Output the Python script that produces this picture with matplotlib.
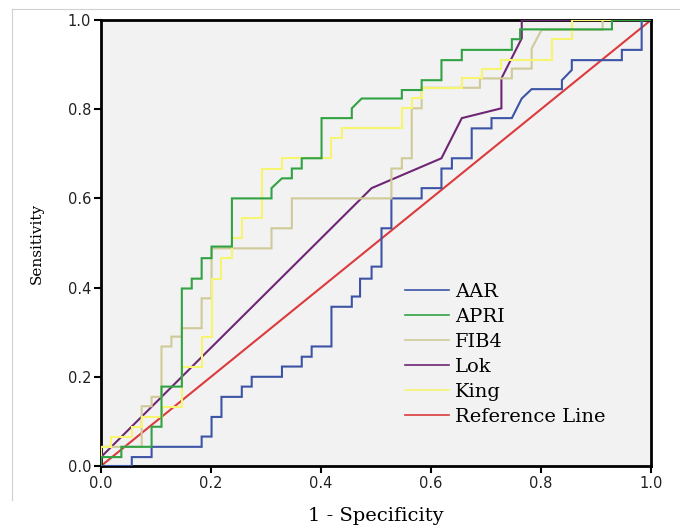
import matplotlib
matplotlib.use('Agg')
from matplotlib import pyplot as plt
from matplotlib.lines import Line2D

# ROC curve vertices (1 - specificity, sensitivity)
aar_x = [0, 0.056, 0.056, 0.092, 0.092, 0.183, 0.183, 0.201, 0.201, 0.219, 0.219,
         0.256, 0.256, 0.274, 0.274, 0.329, 0.329, 0.365, 0.365, 0.383, 0.383,
         0.419, 0.419, 0.456, 0.456, 0.471, 0.471, 0.492, 0.492, 0.51, 0.51,
         0.528, 0.528, 0.583, 0.583, 0.619, 0.619, 0.638, 0.638, 0.674, 0.674,
         0.71, 0.71, 0.747, 0.765, 0.783, 0.838, 0.838, 0.856, 0.856, 0.947,
         0.947, 0.983, 0.983, 1.0]
aar_y = [0, 0, 0.02, 0.02, 0.043, 0.043, 0.066, 0.066, 0.11, 0.11, 0.155,
         0.155, 0.178, 0.178, 0.2, 0.2, 0.223, 0.223, 0.245, 0.245, 0.268,
         0.268, 0.357, 0.357, 0.38, 0.38, 0.42, 0.42, 0.447, 0.447, 0.533,
         0.533, 0.6, 0.6, 0.623, 0.623, 0.667, 0.667, 0.69, 0.69, 0.757,
         0.757, 0.78, 0.78, 0.824, 0.845, 0.845, 0.865, 0.888, 0.91, 0.91,
         0.933, 0.933, 1.0, 1.0]

apri_x = [0, 0, 0.037, 0.037, 0.092, 0.092, 0.11, 0.11, 0.147, 0.147, 0.165,
          0.165, 0.183, 0.183, 0.201, 0.201, 0.238, 0.238, 0.31, 0.31, 0.329,
          0.347, 0.347, 0.365, 0.365, 0.401, 0.401, 0.456, 0.456, 0.474, 0.547,
          0.547, 0.583, 0.583, 0.619, 0.619, 0.656, 0.656, 0.747, 0.747, 0.762,
          0.762, 0.929, 0.929, 1.0]
apri_y = [0, 0.02, 0.02, 0.043, 0.043, 0.088, 0.088, 0.178, 0.178, 0.398, 0.398,
          0.42, 0.42, 0.466, 0.466, 0.492, 0.492, 0.6, 0.6, 0.623, 0.645,
          0.645, 0.667, 0.667, 0.69, 0.69, 0.78, 0.78, 0.802, 0.824, 0.824,
          0.843, 0.843, 0.865, 0.865, 0.91, 0.91, 0.933, 0.933, 0.957, 0.957,
          0.979, 0.979, 1.0, 1.0]

fib4_x = [0, 0, 0.074, 0.074, 0.092, 0.092, 0.11, 0.11, 0.128, 0.128, 0.147,
          0.147, 0.183, 0.183, 0.201, 0.201, 0.31, 0.31, 0.347, 0.347, 0.528,
          0.528, 0.547, 0.547, 0.565, 0.565, 0.583, 0.583, 0.689, 0.689, 0.747,
          0.747, 0.783, 0.783, 0.801, 0.912, 0.912, 1.0]
fib4_y = [0, 0.043, 0.043, 0.134, 0.134, 0.155, 0.155, 0.268, 0.268, 0.29, 0.29,
          0.309, 0.309, 0.376, 0.376, 0.488, 0.488, 0.533, 0.533, 0.6, 0.6,
          0.667, 0.667, 0.69, 0.69, 0.802, 0.802, 0.848, 0.848, 0.869, 0.869,
          0.891, 0.891, 0.936, 0.978, 0.978, 1.0, 1.0]

lok_x = [0, 0.492, 0.619, 0.656, 0.728, 0.728, 0.765, 0.765, 1.0]
lok_y = [0.02, 0.623, 0.69, 0.78, 0.802, 0.869, 0.959, 1.0, 1.0]

king_x = [0, 0, 0.019, 0.019, 0.056, 0.056, 0.074, 0.074, 0.11, 0.11, 0.147,
          0.147, 0.183, 0.183, 0.201, 0.201, 0.219, 0.219, 0.238, 0.238, 0.256,
          0.256, 0.292, 0.292, 0.329, 0.329, 0.419, 0.419, 0.438, 0.438, 0.547,
          0.547, 0.565, 0.565, 0.583, 0.583, 0.656, 0.656, 0.692, 0.692, 0.728,
          0.728, 0.82, 0.82, 0.856, 0.856, 1.0]
king_y = [0, 0.043, 0.043, 0.066, 0.066, 0.088, 0.088, 0.11, 0.11, 0.133, 0.133,
          0.223, 0.223, 0.29, 0.29, 0.42, 0.42, 0.466, 0.466, 0.511, 0.511,
          0.556, 0.556, 0.667, 0.667, 0.69, 0.69, 0.735, 0.735, 0.757, 0.757,
          0.802, 0.802, 0.824, 0.824, 0.848, 0.848, 0.869, 0.869, 0.891, 0.891,
          0.91, 0.91, 0.957, 0.957, 1.0, 1.0]

ref_x = [0, 1]
ref_y = [0, 1]

names = ['AAR', 'APRI', 'FIB4', 'Lok', 'King', 'Reference Line']
colors = ['#3c54a6', '#31a243', '#cfca98', '#6e2674', '#f7f470', '#dc3a3c']
curves = [(aar_x, aar_y), (apri_x, apri_y), (fib4_x, fib4_y),
          (lok_x, lok_y), (king_x, king_y), (ref_x, ref_y)]
ticks = [0.0, 0.2, 0.4, 0.6, 0.8, 1.0]

fig = plt.figure(figsize=(6.8, 5.32), dpi=100)
ax = fig.add_axes([101/680, 66/532, 550/680, 446/532])
ax.set_facecolor('#f2f2f2')

# draw order so that green sits above the tan/yellow as in the picture
order = [5, 0, 3, 2, 4, 1]
for i in order:
    cx, cy = curves[i]
    ax.plot(cx, cy, color=colors[i], lw=1.5, solid_joinstyle='miter', zorder=2 + order.index(i))

ax.set_xlim(0, 1)
ax.set_ylim(0, 1)
ax.set_xticks(ticks)
ax.set_yticks(ticks)
ax.set_xticklabels(['%.1f' % t for t in ticks])
ax.set_yticklabels(['%.1f' % t for t in ticks])
ax.tick_params(direction='out', length=5, width=1.5, labelsize=10.5,
               colors='black', pad=2, labelcolor='#222222')
for s in ax.spines.values():
    s.set_linewidth(2)
    s.set_color('black')

ax.set_xlabel('1 - Specificity', family='DejaVu Serif', fontsize=14, labelpad=12)
ax.set_ylabel('Sensitivity', family='DejaVu Serif', fontsize=11, labelpad=17)

handles = [Line2D([], [], color=c, lw=1.2) for c in colors]
ax.legend(handles, names, loc='upper left', bbox_to_anchor=(0.552, 0.41),
          frameon=False, prop={'family': 'DejaVu Serif', 'size': 14},
          handlelength=2.3, handletextpad=0.3, labelspacing=0.36,
          borderaxespad=0, borderpad=0)

# faint outer frame of the original figure box
fig.add_artist(Line2D([11.7/680, 1], [1 - 9.3/532, 1 - 9.3/532],
                      transform=fig.transFigure, color='#d0d0d0', lw=0.8))
fig.add_artist(Line2D([11.7/680, 11.7/680], [1 - 9.3/532, 1 - 500/532],
                      transform=fig.transFigure, color='#d0d0d0', lw=0.8))

fig.savefig('out.png', dpi=100)
